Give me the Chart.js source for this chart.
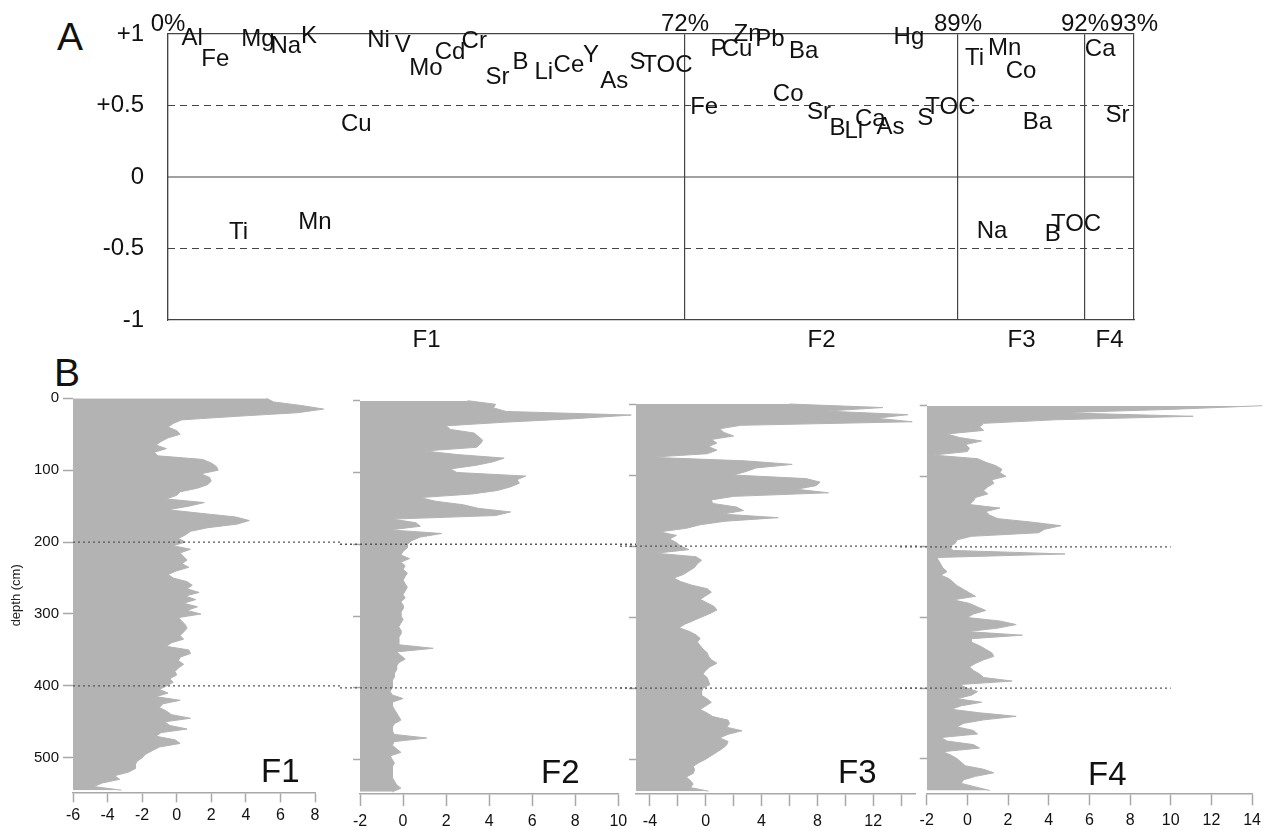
<!DOCTYPE html>
<html>
<head>
<meta charset="utf-8">
<script src="https://cdn.jsdelivr.net/npm/chart.js@4.4.0/dist/chart.umd.min.js"></script>
<style>
  body { margin: 0; background: #fff; width: 1267px; height: 830px; position: relative; overflow: hidden; font-family: "Liberation Sans", Arial, sans-serif; }
  canvas { position: absolute; }
  .tag { position: absolute; font-size: 39px; line-height: 1; color: #111; }
</style>
</head>
<body>
<div class="tag" style="left:57px;top:17px">A</div>
<div class="tag" style="left:54px;top:353px">B</div>
<canvas id="loadings" width="1267" height="360" style="left:0;top:0"></canvas>
<canvas id="f1" width="340" height="450" style="left:0;top:380px"></canvas>
<canvas id="f2" width="300" height="450" style="left:340px;top:380px"></canvas>
<canvas id="f3" width="300" height="450" style="left:620px;top:380px"></canvas>
<canvas id="f4" width="367" height="450" style="left:900px;top:380px"></canvas>
<script>
// ---- panel A : factor loadings ----
const factorNames = ['F1', 'F2', 'F3', 'F4'];
const cumVariance = ['0%', '72%', '89%', '92%', '93%'];
// column edges of the factors on a 0-100 strip
const factorEdges = [0, 53.52, 81.78, 94.93, 100];
const factorMids = [26.76, 67.65, 88.36, 97.47];

const loadNames = ['Al', 'Fe', 'Mg', 'Na', 'K', 'Ni', 'V', 'Mo', 'Cd', 'Cr', 'Sr', 'B', 'Li', 'Ce', 'Y', 'As', 'S', 'TOC', 'Cu', 'Ti', 'Mn',
  'P', 'Cu', 'Zn', 'Pb', 'Ba', 'Hg', 'Co', 'Fe', 'Sr', 'B', 'Li', 'Ca', 'As', 'S', 'TOC',
  'Ti', 'Mn', 'Co', 'Ba', 'Na', 'B', 'TOC',
  'Ca', 'Sr'];
const loadSlot = [2.5, 4.9, 9.3, 12.2, 14.6, 21.8, 24.3, 26.7, 29.2, 31.7, 34.1, 36.5, 38.9, 41.5, 43.8, 46.2, 48.6, 51.7, 19.5, 7.3, 15.2,
  57.0, 58.9, 60.0, 62.3, 65.8, 76.7, 64.2, 55.5, 67.4, 69.3, 71.0, 72.7, 74.8, 78.4, 81.0,
  83.5, 86.6, 88.3, 90.0, 85.3, 91.6, 94.0,
  96.5, 98.3];
const loadValue = [0.97, 0.82, 0.965, 0.91, 0.98, 0.955, 0.92, 0.76, 0.87, 0.95, 0.70, 0.80, 0.73, 0.78, 0.85, 0.67, 0.80, 0.78, 0.37, -0.39, -0.32,
  0.895, 0.89, 1.0, 0.965, 0.88, 0.975, 0.58, 0.49, 0.45, 0.34, 0.32, 0.40, 0.35, 0.41, 0.49,
  0.83, 0.90, 0.74, 0.38, -0.38, -0.40, -0.33,
  0.895, 0.43];
const loadTicks = [1, 0.5, 0, -0.5, -1];
const loadTickLabels = ['+1', '+0.5', '0', '-0.5', '-1'];

// ---- panel B : factor scores down the core ----
const depthCm = [0, 5, 10, 15, 20, 25, 30, 35, 40, 45, 50, 55, 60, 65, 70, 75, 80, 85, 90, 95,
  100, 105, 110, 115, 120, 125, 130, 135, 140, 145, 150, 155, 160, 165, 170, 175, 180, 185, 190, 195,
  200, 205, 210, 215, 220, 225, 230, 235, 240, 245, 250, 255, 260, 265, 270, 275, 280, 285, 290, 295,
  300, 305, 310, 315, 320, 325, 330, 335, 340, 345, 350, 355, 360, 365, 370, 375, 380, 385, 390, 395,
  400, 405, 410, 415, 420, 425, 430, 435, 440, 445, 450, 455, 460, 465, 470, 475, 480, 485, 490, 495,
  500, 505, 510, 515, 520, 525, 530, 535, 540, 545];
const f1Scores = [5.2, 5.6, 7.2, 8.5, 7.0, 3.5, 0.3, -0.2, -0.5, 0.0, 0.2, -0.5, -0.9, -1.2, -0.6, -1.3, -1.1, 1.5, 2.0, 2.3,
  2.4, 1.4, 1.9, 2.0, 1.8, 1.2, 0.2, 0.0, -0.6, 1.6, 0.7, -0.5, 1.4, 3.4, 4.2, 3.5, 1.8, 0.8, 0.5, 0.1,
  0.5, -0.2, 0.8, 0.2, 0.4, 0.6, 0.3, 0.7, 0.0, -0.5, -0.2, 0.6, 0.9, 0.6, 1.3, 0.5, 1.1, 0.4, 1.2, 0.6,
  1.4, 0.1, 0.3, 0.5, 0.6, 0.4, 0.2, 0.4, -0.3, -0.6, 0.7, 0.8, 0.2, 0.1, 0.4, 0.1, -0.1, 0.0, -0.4, -0.2,
  -0.6, -1.0, -0.5, -1.2, 0.2, -0.8, -1.0, -0.6, -0.3, 0.8, -0.7, -0.4, 0.6, -0.9, -1.2, -0.1, 0.2, -1.0, -1.4, -1.8,
  -2.0, -2.3, -2.4, -2.4, -2.8, -3.6, -3.3, -4.3, -4.8, -3.2];
const f2Scores = [3.0, 4.3, 4.2, 4.8, 10.6, 8.0, 4.7, 2.0, 2.2, 3.3, 3.5, 3.7, 3.6, 3.4, 1.0, 2.5, 4.7, 4.2, 3.4, 2.2,
  2.5, 5.7, 5.3, 5.4, 5.0, 4.4, 3.2, 0.8, 1.5, 2.8, 3.5, 5.0, 4.3, -0.5, 0.6, 0.8, -0.6, 1.8, 0.8, 0.4,
  0.2, 0.2, 0.0, -0.1, 0.3, -0.1, 0.1, 0.0, 0.2, 0.1, 0.0, 0.1, 0.2, 0.1, 0.0, 0.1, -0.1, 0.0, 0.0, -0.1,
  -0.1, 0.0, -0.1, -0.2, -0.1, -0.1, -0.2, -0.2, -0.2, 1.4, -0.3, -0.1, 0.1, -0.2, -0.3, -0.3, -0.4, -0.4, -0.5, -0.5,
  -0.5, -0.6, -0.5, 0.0, -0.5, -0.5, -0.4, -0.3, -0.2, -0.1, -0.4, -0.5, -0.5, -0.4, 1.1, -0.4, -0.5, -0.3, -0.1, -0.6,
  -0.5, -0.4, -0.5, -0.5, -0.5, -0.5, -0.4, -0.3, -0.1, -0.5];
const f3Scores = [6.0, 12.7, 8.6, 14.5, 12.2, 14.8, 2.5, 1.0, 1.3, 2.0, 0.4, 0.8, 0.2, 0.8, 0.1, -4.0, 2.8, 6.2, 3.6, 2.9,
  2.0, 7.2, 8.2, 7.9, 6.5, 8.8, 2.0, 0.4, 0.5, 2.2, 2.7, 1.2, 5.2, 1.4, -0.4, -1.4, -3.3, -2.1, -2.6, -2.1,
  -1.8, -1.2, -3.6, -0.7, -0.3, -0.6, -0.8, -1.2, -1.6, -2.3, -1.8, -1.0, 0.1, 0.4, 0.0, -0.4, 0.1, 0.6, 0.8, 0.3,
  -0.3, -0.9, -1.5, -1.9, -1.2, -0.7, -0.4, -0.6, -0.4, -0.2, 0.1, 0.2, 0.4, 0.8, 0.3, 0.0, -0.2, 0.1, 0.2, 0.3,
  -0.2, -0.3, -0.3, 0.1, 0.4, 0.0, -0.4, 0.1, 0.5, 1.6, 1.7, 1.5, 2.6, 1.6, 1.0, 1.6, 1.5, 1.2, 0.8, 0.4,
  0.0, -0.5, -0.9, -0.8, -0.9, -1.4, -1.1, -0.9, -1.1, 0.2];
const f4Scores = [14.5, 10.2, 4.6, 11.1, 4.3, 0.8, 0.6, 0.8, -1.0, -0.4, 0.7, -0.1, 0.1, 0.0, -1.7, 0.5, 0.9, 1.4, 1.7, 1.6,
  1.9, 1.2, 1.3, 1.0, 0.8, 1.0, 0.4, 0.3, 0.1, 1.6, 0.9, 1.1, 1.5, 3.2, 4.6, 3.8, 3.5, 0.2, -0.5, -0.6,
  -0.9, -0.7, 4.8, -1.5, -1.4, -1.3, -1.2, -1.0, -1.3, -0.9, -0.7, -0.5, -0.2, 0.1, 0.4, -0.7, 0.1, 0.5, 0.9, 0.3,
  0.0, 1.6, 2.4, 1.5, 0.0, 2.7, 0.2, 0.2, 0.6, 0.9, 1.2, 1.3, 0.8, 0.4, 0.1, 0.3, 0.6, 0.8, 2.2, -0.4,
  0.0, 0.5, 0.2, -0.5, 0.7, -0.3, -0.8, 0.6, 2.4, 0.8, -0.2, -0.5, 0.3, 0.5, -1.3, -1.0, 0.3, 0.6, -1.2, -0.8,
  -0.5, -0.3, -0.1, 0.8, 1.3, 0.4, -0.2, -0.3, 0.4, 1.1];
const depthTicks = [0, 100, 200, 300, 400, 500];
const f1Ticks = [-6, -4, -2, 0, 2, 4, 6, 8];
const f2Ticks = [-2, 0, 2, 4, 6, 8, 10];
const f3Ticks = [-4, -2, 0, 2, 4, 6, 8, 10, 12, 14];
const f3TickLabels = ['-4', '', '0', '', '4', '', '8', '', '12', ''];
const f4Ticks = [-2, 0, 2, 4, 6, 8, 10, 12, 14];
const zoneDepths = [200, 400];

Chart.defaults.font.family = '"Liberation Sans", Arial, sans-serif';
Chart.defaults.color = '#111';

const ink = '#444';

// element symbols written at their loading
const elementText = {
  id: 'elementText',
  afterDatasetsDraw(chart) {
    const meta = chart.getDatasetMeta(0);
    const ctx = chart.ctx;
    ctx.save();
    ctx.font = '24px "Liberation Sans", Arial, sans-serif';
    ctx.fillStyle = '#111';
    ctx.textAlign = 'center';
    ctx.textBaseline = 'middle';
    meta.data.forEach((pt, i) => ctx.fillText(loadNames[i], pt.x, pt.y));
    ctx.restore();
  }
};

new Chart(document.getElementById('loadings'), {
  type: 'scatter',
  data: {
    datasets: [
      { data: loadSlot.map((x, i) => ({ x: x, y: loadValue[i] })), pointRadius: 0 },
      { data: [{ x: 0, y: 0 }, { x: 100, y: 0 }], showLine: true, borderColor: ink, borderWidth: 1.2, pointRadius: 0 },
      { data: [{ x: 0, y: 0.5 }, { x: 100, y: 0.5 }], showLine: true, borderColor: ink, borderWidth: 1.2, borderDash: [7, 5], pointRadius: 0 },
      { data: [{ x: 0, y: -0.5 }, { x: 100, y: -0.5 }], showLine: true, borderColor: ink, borderWidth: 1.2, borderDash: [7, 5], pointRadius: 0 }
    ]
  },
  options: {
    responsive: false,
    animation: false,
    events: [],
    layout: { padding: { left: 0, right: 133, top: 0, bottom: 0 }, autoPadding: false },
    plugins: { legend: { display: false }, tooltip: { enabled: false } },
    scales: {
      x: {
        type: 'linear', min: 0, max: 100,
        afterBuildTicks: s => { s.ticks = factorMids.map(v => ({ value: v })); },
        afterFit: s => { s.height = 40; },
        ticks: { font: { size: 24, lineHeight: 1 }, padding: 0, maxRotation: 0, callback: (v, i) => factorNames[i] },
        grid: { display: false },
        border: { color: ink, width: 1.2 }
      },
      xTop: {
        type: 'linear', position: 'top', min: 0, max: 100,
        afterBuildTicks: s => { s.ticks = factorEdges.map(v => ({ value: v })); },
        afterFit: s => { s.height = 34; },
        ticks: { font: { size: 24, lineHeight: 1 }, padding: -2, maxRotation: 0, callback: (v, i) => cumVariance[i] },
        grid: { color: ink, lineWidth: 1.2, drawTicks: false },
        border: { color: ink, width: 1.2 }
      },
      y: {
        type: 'linear', min: -1, max: 1,
        afterBuildTicks: s => { s.ticks = loadTicks.map(v => ({ value: v })); },
        afterFit: s => { s.width = 168; },
        ticks: { font: { size: 24 }, padding: 0, callback: v => loadTickLabels[loadTicks.indexOf(v)] },
        grid: { display: true, drawOnChartArea: false, drawTicks: true, tickLength: 24, tickColor: 'rgba(0,0,0,0)' },
        border: { color: ink, width: 1.2 }
      }
    }
  },
  plugins: [elementText]
});

// let the gray area run past the right end of the axis
const looseFill = {
  id: 'looseFill',
  beforeDatasetsDraw(chart) { chart.$keepRight = chart.chartArea.right; chart.chartArea.right = chart.width; },
  afterDatasetsDraw(chart) { chart.chartArea.right = chart.$keepRight; }
};

// dotted zone boundaries and the big factor name
const profileDeco = {
  id: 'profileDeco',
  afterDraw(chart, args, opts) {
    const ctx = chart.ctx;
    const ys = chart.scales.y;
    const xs = chart.scales.x;
    const x0 = opts.fromArea ? chart.chartArea.left : 0;
    const x1 = opts.lineEnd != null ? xs.getPixelForValue(opts.lineEnd) : chart.width;
    ctx.save();
    ctx.strokeStyle = '#555';
    ctx.lineWidth = 1.3;
    ctx.setLineDash([2, 3]);
    zoneDepths.forEach(d => {
      const y = ys.getPixelForValue(d);
      ctx.beginPath();
      ctx.moveTo(x0, y);
      ctx.lineTo(x1, y);
      ctx.stroke();
    });
    ctx.setLineDash([]);
    ctx.font = '33px "Liberation Sans", Arial, sans-serif';
    ctx.fillStyle = '#111';
    ctx.textAlign = 'left';
    ctx.textBaseline = 'alphabetic';
    ctx.fillText(opts.text, opts.x, opts.y);
    ctx.restore();
  }
};

const axisGray = '#a8a8a8';

function profile(id, scores, cfg) {
  new Chart(document.getElementById(id), {
    type: 'line',
    data: {
      datasets: [{
        data: depthCm.map((d, i) => ({ x: scores[i], y: d })),
        fill: { value: cfg.min },
        backgroundColor: '#b3b3b3',
        borderColor: '#b3b3b3',
        borderWidth: 1,
        pointRadius: 0,
        tension: 0,
        clip: false
      }]
    },
    options: {
      indexAxis: 'y',
      responsive: false,
      animation: false,
      events: [],
      layout: { padding: cfg.pad, autoPadding: false },
      plugins: {
        legend: { display: false },
        tooltip: { enabled: false },
        profileDeco: cfg.deco
      },
      scales: {
        x: {
          type: 'linear', min: cfg.min, max: cfg.max,
          afterBuildTicks: s => { s.ticks = cfg.ticks.map(v => ({ value: v })); },
          afterFit: s => { s.height = cfg.xH; },
          ticks: {
            font: { size: 16 }, padding: cfg.xPad, maxRotation: 0, autoSkip: false,
            callback: (v, i) => cfg.tickLabels ? cfg.tickLabels[i] : String(v)
          },
          grid: { drawOnChartArea: false, tickLength: cfg.xTick, tickColor: axisGray, tickWidth: 1.5 },
          border: { color: axisGray, width: 1.5 }
        },
        y: {
          type: 'linear', reverse: true, min: 0, max: cfg.ymax,
          afterBuildTicks: s => { s.ticks = depthTicks.map(v => ({ value: v })); },
          afterFit: s => { s.width = cfg.yW; },
          ticks: { font: { size: 15 }, padding: 4, callback: v => cfg.depthLabels ? String(v) : '' },
          title: cfg.depthLabels ? { display: true, text: 'depth (cm)', font: { size: 13 }, color: '#222', padding: { top: 9, bottom: 0 } } : { display: false },
          grid: { drawOnChartArea: false, tickLength: cfg.yTick, tickColor: axisGray, tickWidth: 1.5 },
          border: { display: false }
        }
      }
    },
    plugins: [looseFill, profileDeco]
  });
}

profile('f1', f1Scores, {
  min: -6, max: 8, ymax: 548, ticks: f1Ticks, pad: { left: 0, right: 25, top: 18.3, bottom: 0 },
  yW: 73, xH: 37.7, xTick: 10, xPad: 4, yTick: 10, depthLabels: true,
  deco: { text: 'F1', x: 261, y: 402, fromArea: true, lineEnd: null }
});
profile('f2', f2Scores, {
  min: -2, max: 10, ymax: 548, ticks: f2Ticks, pad: { left: 0, right: 21.7, top: 20.7, bottom: 0 },
  yW: 20, xH: 36, xTick: 12, xPad: 6, yTick: 7, depthLabels: false,
  deco: { text: 'F2', x: 201, y: 403, fromArea: false, lineEnd: null }
});
profile('f3', f3Scores, {
  min: -5, max: 15, ymax: 549, ticks: f3Ticks, tickLabels: f3TickLabels, pad: { left: 0, right: 5, top: 24, bottom: 0 },
  yW: 16, xH: 36, xTick: 12, xPad: 6, yTick: 7, depthLabels: false,
  deco: { text: 'F3', x: 218, y: 403, fromArea: false, lineEnd: null }
});
profile('f4', f4Scores, {
  min: -2, max: 14, ymax: 549, ticks: f4Ticks, pad: { left: 0, right: 11.3, top: 25.7, bottom: 0 },
  yW: 26.7, xH: 36.7, xTick: 12, xPad: 6, yTick: 7, depthLabels: false,
  deco: { text: 'F4', x: 188, y: 405, fromArea: false, lineEnd: 10 }
});
</script>
</body>
</html>
